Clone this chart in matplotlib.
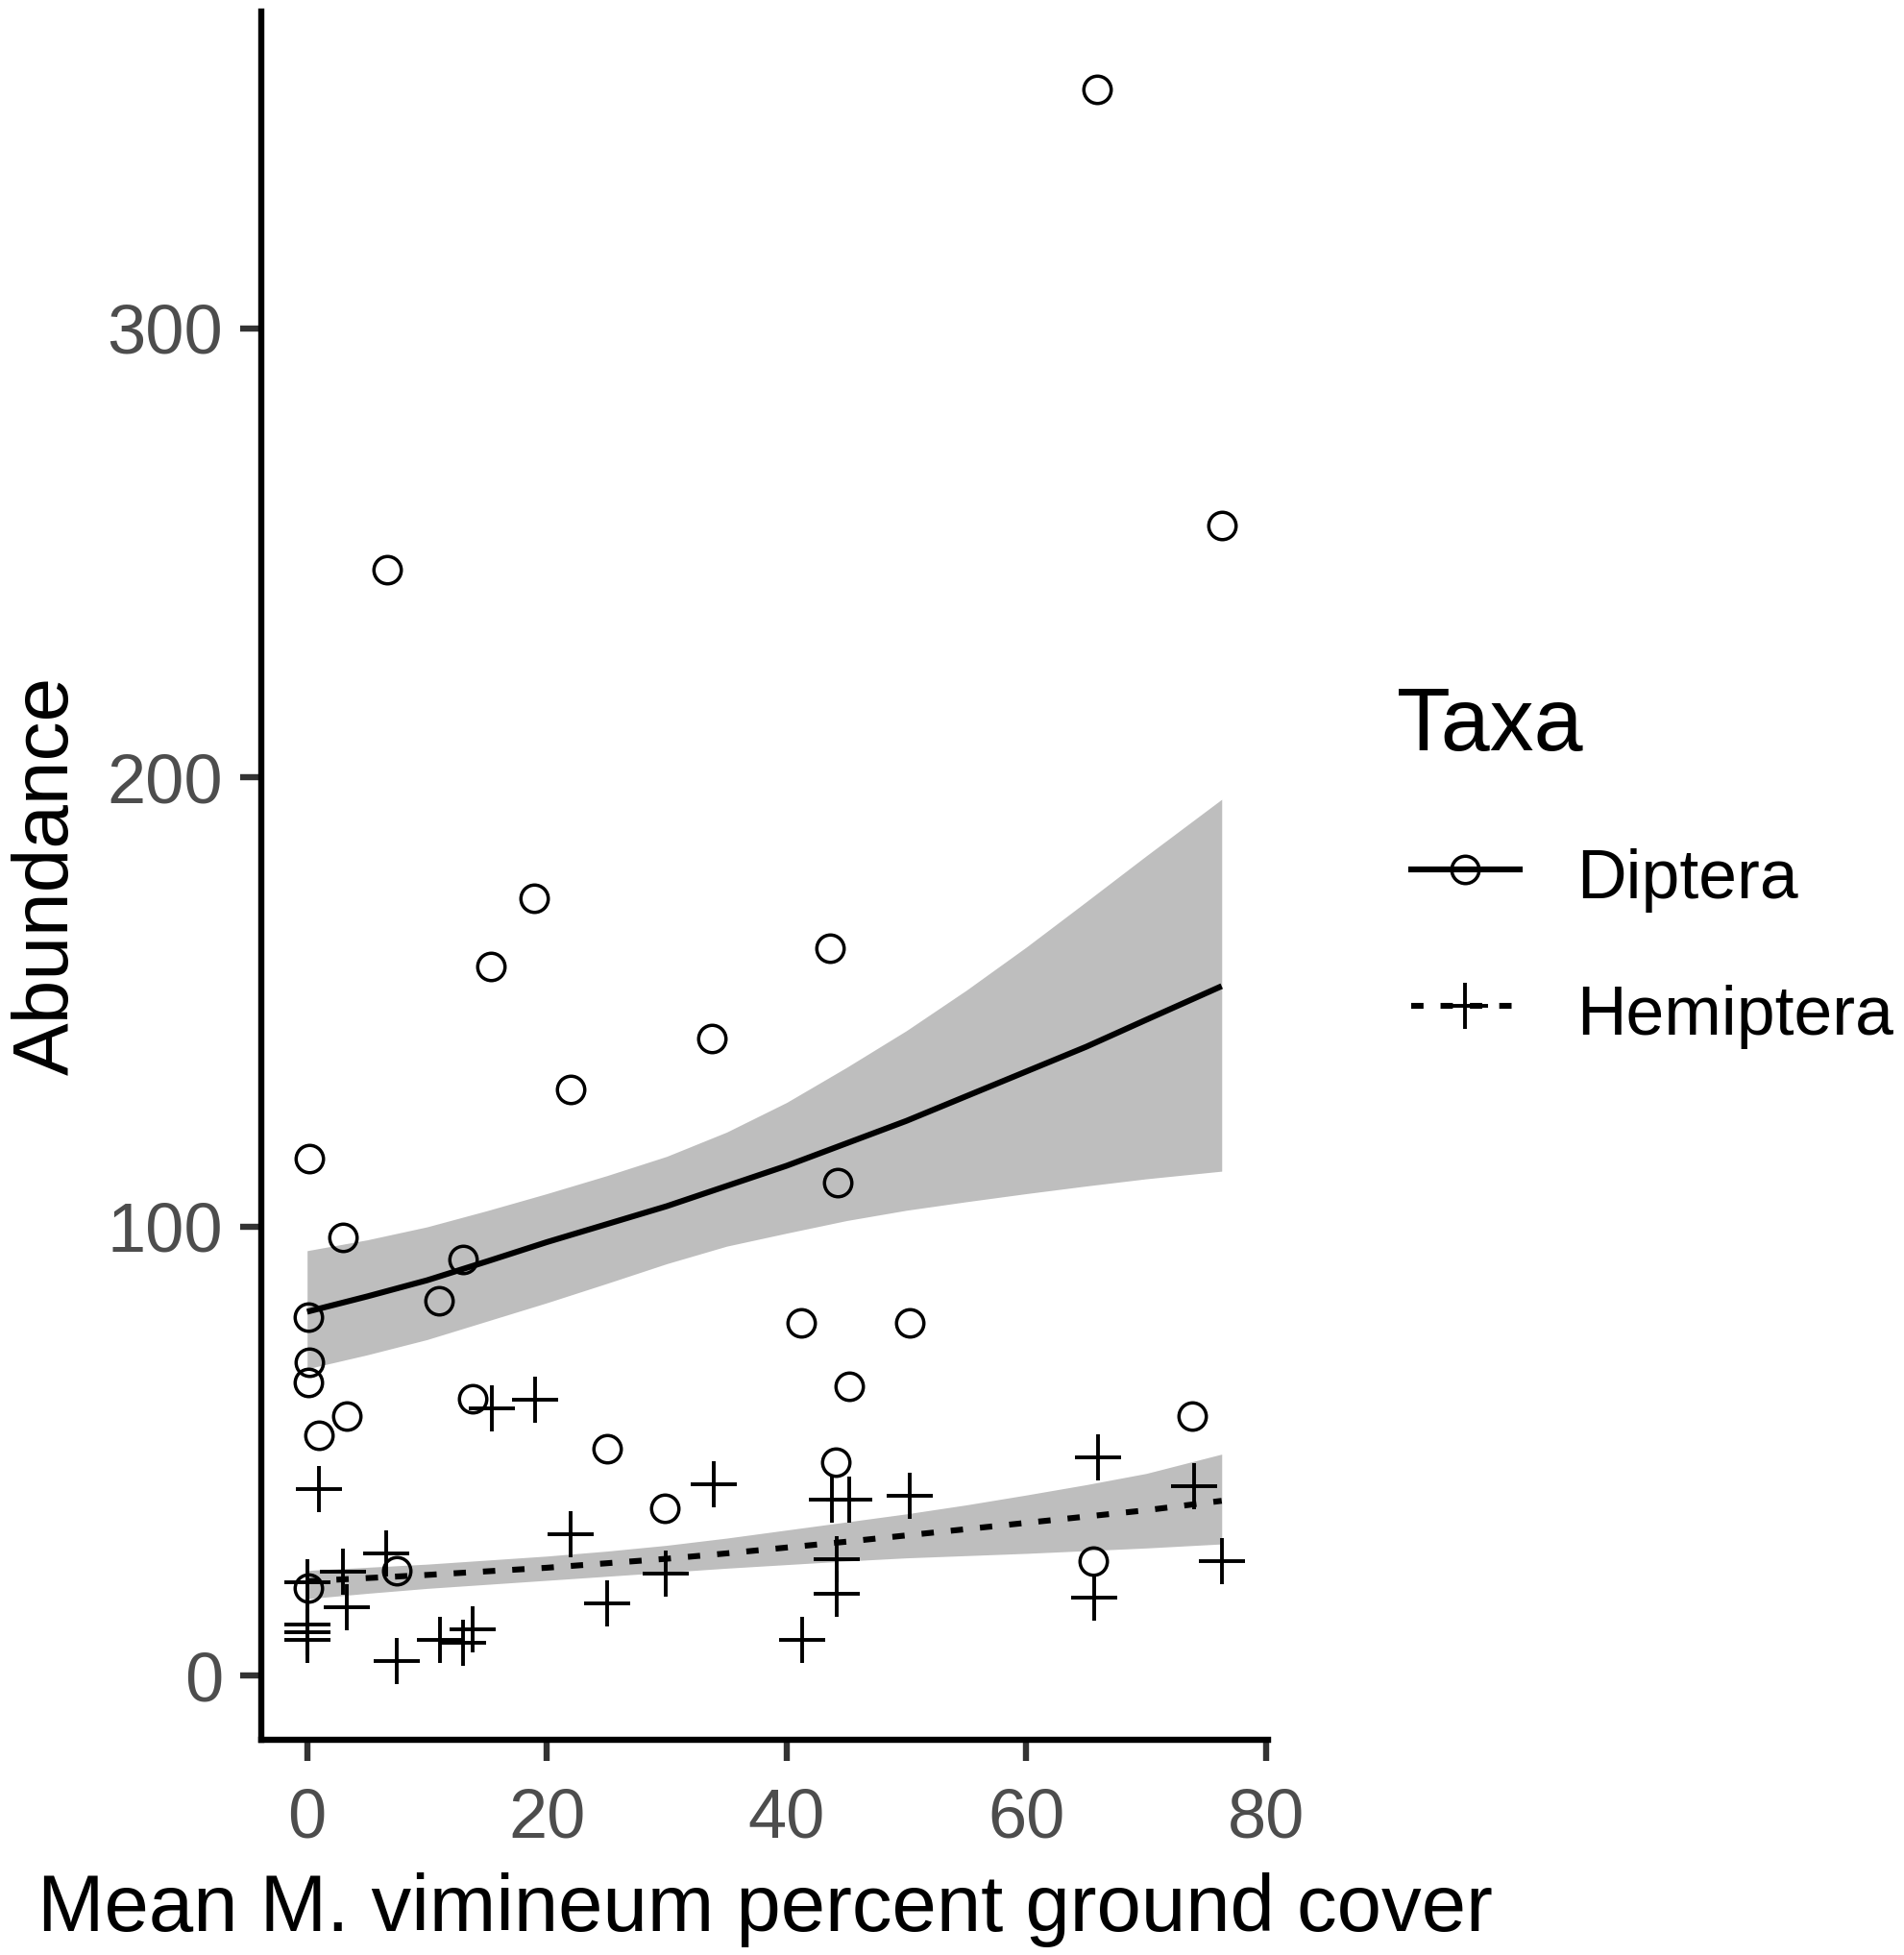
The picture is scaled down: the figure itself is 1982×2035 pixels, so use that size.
import matplotlib
matplotlib.use("Agg")
import matplotlib.pyplot as plt
from matplotlib.lines import Line2D

plt.rcParams["font.family"] = ["Liberation Sans", "DejaVu Sans"]

# ---- data ----
diptera_x = [65.9, 76.3, 6.7, 18.9, 15.3, 43.6, 33.8, 22.0, 0.2, 44.3, 3.0, 13.0, 11.0, 0.1,
             41.2, 50.3, 0.2, 0.1, 45.2, 13.8, 3.3, 73.8, 1.0, 25.0, 44.1, 29.8, 7.5, 65.6, 0.1]
diptera_y = [353.1, 256.1, 246.2, 173.1, 157.9, 162.0, 141.9, 130.5, 115.0, 109.8, 97.5, 92.6, 83.5, 79.8,
             78.5, 78.5, 69.8, 65.3, 64.5, 61.6, 57.7, 57.8, 53.5, 50.5, 47.6, 37.3, 23.3, 25.5, 19.4]

hemiptera_x = [0.0, 0.0, 0.0, 0.0, 1.0, 3.0, 3.3, 6.6, 7.5, 11.1, 13.0, 13.8, 15.4, 19.0,
               22.0, 25.0, 29.9, 33.9, 41.3, 43.8, 45.2, 44.2, 44.2, 50.3, 66.0, 65.7, 74.0, 76.3]
hemiptera_y = [20.7, 11.4, 9.7, 8.0, 41.6, 23.2, 15.2, 27.1, 3.2, 7.9, 7.2, 10.2, 59.5, 61.5,
               31.4, 16.1, 22.6, 42.5, 7.9, 39.2, 39.2, 26.0, 18.2, 40.1, 48.5, 17.3, 42.2, 25.5]

# fitted curves and confidence bands (read at these x)
fit_x = [0, 5, 10, 15, 20, 25, 30, 35, 40, 45, 50, 55, 60, 65, 70, 76.3]
dip_fit = [81.0, 84.4, 88.0, 92.2, 96.5, 100.5, 104.5, 109.0, 113.5, 118.5, 123.5, 129.0,
           134.5, 140.0, 146.0, 153.5]
dip_lo = [68.3, 71.4, 74.8, 78.9, 83.0, 87.3, 91.7, 95.6, 98.5, 101.3, 103.6, 105.5,
          107.3, 109.0, 110.6, 112.3]
dip_hi = [94.6, 97.0, 99.9, 103.5, 107.3, 111.3, 115.6, 121.0, 127.6, 135.4, 143.6, 152.6,
          162.2, 172.3, 182.5, 195.1]
hem_fit = [21.0, 21.7, 22.4, 23.2, 24.0, 25.0, 26.0, 27.2, 28.5, 29.8, 31.2, 32.6,
           34.0, 35.4, 36.8, 38.9]
hem_lo = [17.1, 18.3, 19.4, 20.3, 21.2, 22.1, 23.0, 23.9, 24.7, 25.5, 26.2, 26.7,
          27.2, 27.8, 28.4, 29.3]
hem_hi = [23.4, 24.1, 24.8, 25.7, 26.6, 27.7, 29.0, 30.6, 32.4, 34.2, 36.0, 38.0,
          40.2, 42.5, 45.0, 49.3]

taxa = ["Diptera", "Hemiptera"]
x_ticks = [0, 20, 40, 60, 80]
y_ticks = [0, 100, 200, 300]

W, H = 1983, 2035
band_col = "#bebebe"
dash = (0, (2.1, 2.9))
circ = dict(marker="o", markersize=20.5, markerfacecolor="none", markeredgecolor="black", markeredgewidth=2.5)
plus = dict(marker="+", markersize=34, markeredgecolor="black", markeredgewidth=2.8)

fig = plt.figure(figsize=(W / 100, H / 100), dpi=100)
ax = fig.add_axes([272 / W, 0.1101, 0.5287, 0.8840])

ax.fill_between(fit_x, dip_lo, dip_hi, color=band_col, lw=0, zorder=1)
ax.fill_between(fit_x, hem_lo, hem_hi, color=band_col, lw=0, zorder=1)
ax.plot(diptera_x, diptera_y, ls="none", zorder=2, **circ)
ax.plot(hemiptera_x, hemiptera_y, ls="none", zorder=2, **plus)
ax.plot(fit_x, dip_fit, color="black", lw=4.4, solid_capstyle="butt", zorder=3)
ax.plot(fit_x, hem_fit, color="black", lw=4.4, ls=dash, dash_capstyle="butt", zorder=3)

ax.set_xlim(-3.82, 80.2)
ax.set_ylim(-14.3, 370.5)
ax.set_xticks(x_ticks)
ax.set_yticks(y_ticks)

for s in ["top", "right"]:
    ax.spines[s].set_visible(False)
for s in ["left", "bottom"]:
    ax.spines[s].set_linewidth(4.6)
    ax.spines[s].set_capstyle("projecting")
ax.tick_params(axis="both", length=15.5, width=4.6, color="#333333",
               labelsize=52, labelcolor="#4d4d4d")
ax.tick_params(axis="x", pad=20)
ax.tick_params(axis="y", pad=13)

ax.set_xlabel("Mean M. vimineum percent ground cover", fontsize=60)
ax.xaxis.set_label_coords(0.5, -0.1107)
ax.xaxis.label.set_va("baseline")
ax.set_ylabel("Abundance", fontsize=59)
ax.yaxis.set_label_coords(-0.1917, 0.5)
ax.yaxis.label.set_va("baseline")

# ---- legend, placed by hand ----
def fx(px):
    return px / W

def fy(py):
    return 1 - py / H

fig.text(fx(1454), fy(781), "Taxa", fontsize=66, va="baseline", ha="left")
key_rows = [(905, 935, "-", circ), (1047, 1077, dash, plus)]
for name, (ky, ty, style, mk) in zip(taxa, key_rows):
    fig.add_artist(Line2D([fx(1469), fx(1525.5), fx(1582)], [fy(ky)] * 3, transform=fig.transFigure,
                          color="black", lw=4.4, ls=style, dash_capstyle="butt", markevery=[1], **mk))
    fig.text(fx(1641), fy(ty), name, fontsize=51.5, va="baseline", ha="left")

fig.savefig("out.png", dpi=100)
